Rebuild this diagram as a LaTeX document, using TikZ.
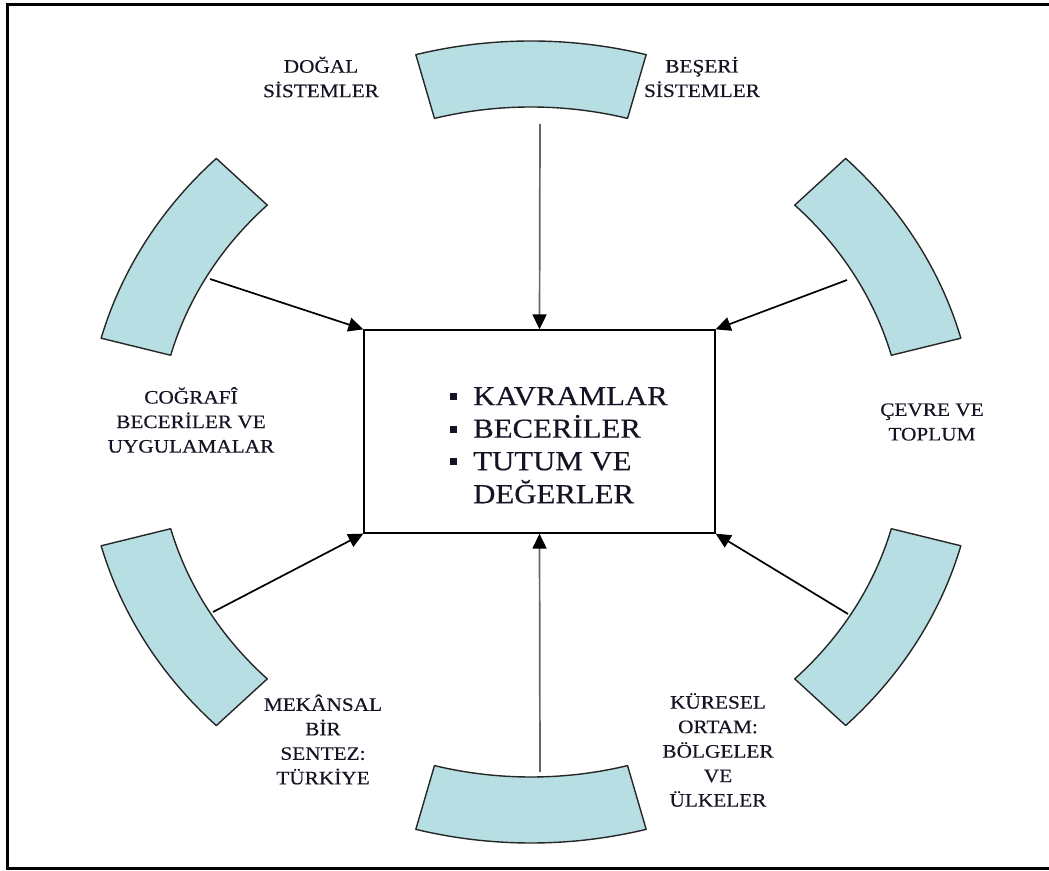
\documentclass[tikz,border=0pt]{standalone}
\usepackage{fontspec}
\setmainfont{Liberation Serif}[FakeStretch=1.12,FakeBold=0.4]
\usetikzlibrary{arrows.meta}
\definecolor{ringfill}{RGB}{183,223,227}
\definecolor{ink}{RGB}{20,20,36}
\newcommand\listbullet{\raisebox{5pt}{\rule{7pt}{7pt}}}
\begin{document}
\begin{tikzpicture}[x=1pt,y=1pt,
  segment/.style={fill=ringfill,draw=black!85,line width=1.4pt,line join=round},
  feed/.style={line width=1.7pt,-{Triangle[length=15pt,width=14pt,color=black]}},
  feedv/.style={feed,draw=black!60},
  ringlabel/.style={text=ink,align=center,inner sep=0pt,
    font=\fontsize{19}{24.5}\selectfont}]
\useasboundingbox (0,0) rectangle (1049,870);
% outer frame
\draw[line width=3pt] (1055,865) -- (7,865) -- (7,2) -- (1055,2);

% ring of six segments around the centre
\begin{scope}[shift={(531,428)}]
  \foreach \a/\b in {75/105,135/165,195/225,255/285,315/345,15/45}{
    \path[segment] (\a:445 and 401)
      arc[start angle=\a,end angle=\b,x radius=445,y radius=401]
      -- (\b:373 and 335)
      arc[start angle=\b,end angle=\a,x radius=373,y radius=335] -- cycle;
  }
\end{scope}

% central box
\node[draw,line width=1.3pt,minimum width=351pt,minimum height=203pt,
  inner sep=0pt] (core) at (539.5,438.5) {};
\node[anchor=north west,inner sep=0pt,text=ink,
  font=\fontsize{27.5}{32.5}\selectfont] (topics) at (450,487.75)
  {\begin{tabular}{@{}l@{\hspace{16pt}}l@{}}
   \listbullet & KAVRAMLAR\\
   \listbullet & BECERİLER\\
   \listbullet & TUTUM VE\\
               & DEĞERLER
   \end{tabular}};

% arrow sources on the segments
\coordinate (sTop) at (540,746);
\coordinate (sBot) at (540,98);
\coordinate (sUL) at (210,591);
\coordinate (sUR) at (847,590);
\coordinate (sLL) at (213,258);
\coordinate (sLR) at (848,256);

\draw[feedv] (sTop) -- (core.north);
\draw[feedv] (sBot) -- (core.south);
\draw[feed] (sUL) -- (core.north west);
\draw[feed] (sUR) -- (core.north east);
\draw[feed] (sLL) -- (core.south west);
\draw[feed] (sLR) -- (core.south east);

% segment labels
\node[ringlabel] (lDogal) at (321,793) {DOĞAL\\SİSTEMLER};
\node[ringlabel] (lBeseri) at (702,793) {BEŞERİ\\SİSTEMLER};
\node[ringlabel] (lCografi) at (191,450) {COĞRAFÎ\\BECERİLER VE\\UYGULAMALAR};
\node[ringlabel] (lCevre) at (932,448) {ÇEVRE VE\\TOPLUM};
\node[ringlabel] (lMekan) at (323,130.5) {MEKÂNSAL\\BİR\\SENTEZ:\\TÜRKİYE};
\node[ringlabel] (lKuresel) at (718,120) {KÜRESEL\\ORTAM:\\BÖLGELER\\VE\\ÜLKELER};
\end{tikzpicture}
\end{document}
